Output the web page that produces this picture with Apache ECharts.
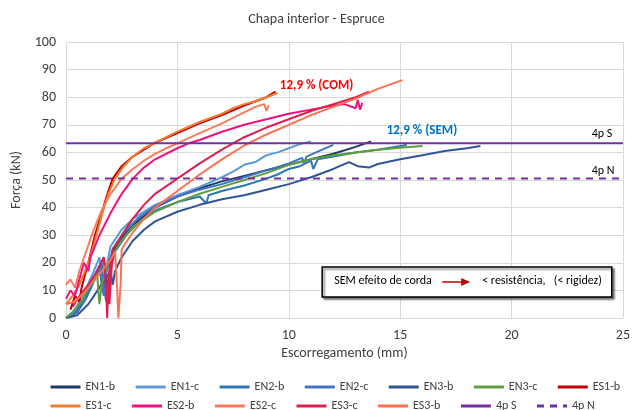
<!DOCTYPE html>
<html><head><meta charset="utf-8">
<script src="https://cdn.jsdelivr.net/npm/echarts@6/dist/echarts.min.js"></script>
<style>html,body{margin:0;padding:0;background:#fff}#c{width:633px;height:410px}</style>
</head><body><div id="c"></div>
<script>
// ---- data ----
const title = 'Chapa interior - Espruce';
const xName = 'Escorregamento (mm)';
const yName = 'Força (kN)';
const seriesNames = ['EN1-b','EN1-c','EN2-b','EN2-c','EN3-b','EN3-c','ES1-b','ES1-c','ES2-b','ES2-c','ES3-c','ES3-b','4p S','4p N'];

const EN1_b = [[0,0],[0.3,1],[0.6,4],[1.0,10],[1.4,17],[1.7,22],[1.8,14],[1.85,8],[1.9,14],[2.1,24],[2.6,30],[3.2,35],[4,40],[5,44],[6,47],[7,49.5],[8,51.5],[9,53.5],[10,55.5],[11,57.5],[12,59.5],[13,62],[13.7,64]];
const EN1_c = [[0,0],[0.4,3],[0.8,9],[1.2,16],[1.5,22],[1.6,16],[1.7,10],[1.8,18],[2.0,26],[2.5,32],[3,36],[4,41],[5,44.5],[6,47.5],[7,51],[7.5,53],[8,55.5],[8.5,56.5],[9,59],[9.5,60],[10,61.5],[10.5,63],[11,64]];
const EN2_b = [[0,0],[0.5,2],[0.9,7],[1.3,14],[1.6,20],[1.7,12],[1.8,6],[1.9,14],[2.2,24],[2.7,30],[3.3,35],[4,39],[4.5,40.5],[5,42],[6,44],[6.3,41.5],[6.4,44.5],[7,46],[8,48],[9,50.5],[9.5,52],[10,54],[10.5,55],[11,57],[11.1,54],[11.3,57.5],[12,58.5],[13,60],[14,61],[15.3,62.7]];
const EN2_c = [[0,0],[0.4,2],[0.8,7],[1.2,14],[1.5,19],[1.6,12],[1.7,8],[1.8,16],[2.1,25],[2.6,31],[3.2,36],[4,40.5],[5,44],[6,46.5],[7,48.5],[8,51],[9,53.5],[10,56],[10.6,58],[10.7,56],[10.8,58.5],[11.5,61],[12,62.7]];
const EN3_b = [[0,0],[0.5,1],[1,5],[1.5,11],[2,17],[2.1,12],[2.2,17],[2.5,22],[3,28],[3.5,32],[4,35],[5,38.5],[6,41],[7,43],[8,44.5],[9,46.5],[10,48.5],[11,51],[12,54],[12.7,56.5],[13.1,55],[13.6,54.5],[14,55.8],[15,57.5],[16,59],[17,60.5],[18,61.5],[18.6,62.3]];
const EN3_c = [[0,0],[0.3,2],[0.7,6],[1.1,12],[1.4,16],[1.45,10],[1.5,5],[1.6,12],[1.9,20],[2.4,27],[3,33],[4,38.5],[5,42],[6,45],[7,47.5],[8,50],[9,52.5],[10,55.5],[11,57.5],[12,59],[13,60],[14,61],[15,61.7],[16,62.3]];
const ES1_b = [[0.2,3],[0.4,8],[0.6,6],[0.7,11],[1.0,20],[1.3,30],[1.6,38],[1.9,46],[2.1,50.5],[2.5,55],[3,58.5],[3.5,61],[4,63.5],[5,67],[6,70.5],[7,73.5],[8,77],[9,80],[9.4,82]];
const ES1_c = [[0,5],[0.3,8],[0.6,12],[1.0,20],[1.3,28],[1.6,37],[1.9,45],[2.2,50.5],[2.6,55],[3,58.5],[3.5,61.5],[4,63.5],[5,67.5],[6,71],[7,74],[7.5,76],[8,77.5],[8.5,78.5],[9,80],[9.5,81.5]];
const ES2_b = [[0,7],[0.2,10],[0.4,8],[0.6,14],[0.8,20],[1.0,17],[1.1,22],[1.5,30],[2,38],[2.5,45],[3,50.5],[3.5,54.5],[4,57.5],[5,61.5],[5.5,63.3],[6,64.5],[7,67.5],[8,70],[9,72],[10,74],[11,75.5],[12,77],[12.5,77.5],[13,76],[13.1,79],[13.2,75.5],[13.3,78]];
const ES2_c = [[0,12],[0.2,14],[0.4,11],[0.6,17],[0.9,24],[1.2,31],[1.6,39],[2,45],[2.5,50.5],[3,54],[3.5,57],[4,59.5],[4.5,61.5],[5,63.3],[6,67],[7,70.5],[7.5,72.5],[8,74.5],[8.5,76.5],[8.9,77.5],[9.0,75],[9.1,77]];
const ES3_c = [[0.3,4],[0.6,8],[1,12],[1.4,17],[1.7,22],[1.8,10],[1.85,0],[1.9,12],[2.0,22],[1.95,5],[2.1,25],[2.5,30],[3,36],[3.5,41],[4,45],[5,50.5],[6,56],[6.6,59],[7,61],[8,65.5],[9,69],[10,72],[11,75],[12,77.5],[13,80],[13.6,82]];
const ES3_b = [[0,5],[0.4,6],[0.8,9],[1.2,13],[1.6,17],[2.0,21],[2.2,24],[2.3,10],[2.35,0],[2.45,12],[2.5,25],[3,31],[3.5,36],[4,40],[5,46],[6,52],[7,57.5],[8,62.5],[9,66.5],[10,70],[11,73.5],[12,76.5],[13,79.5],[14,83],[15.1,86.2]];
const limit4pS = 63.3;
const limit4pN = 50.5;
const xRange = [0, 25];

// ---- styles ----
const colors = {
  'EN1-b':'#1F3A68','EN1-c':'#5B9BD5','EN2-b':'#2E75B6','EN2-c':'#4472C4','EN3-b':'#2F5597','EN3-c':'#5E9E3C',
  'ES1-b':'#C00000','ES1-c':'#ED7D31','ES2-b':'#F0117F','ES2-c':'#F87C5A','ES3-c':'#DC2050','ES3-b':'#FF7050',
  '4p S':'#7030A0','4p N':'#7030A0'
};
const seriesData = {
  'EN1-b':EN1_b,'EN1-c':EN1_c,'EN2-b':EN2_b,'EN2-c':EN2_c,'EN3-b':EN3_b,'EN3-c':EN3_c,
  'ES1-b':ES1_b,'ES1-c':ES1_c,'ES2-b':ES2_b,'ES2-c':ES2_c,'ES3-c':ES3_c,'ES3-b':ES3_b,
  '4p S':[[xRange[0],limit4pS],[xRange[1],limit4pS]],
  '4p N':[[xRange[0],limit4pN],[xRange[1],limit4pN]]
};
const FONT = 'Carlito, Lato, sans-serif';
const TXT = '#404040';

const chart = echarts.init(document.getElementById('c'), null, {renderer:'canvas'});
const series = seriesNames.map(n => ({
  name:n, type:'line', data:seriesData[n], showSymbol:false, symbol:'none',
  animation:false, silent:true,
  lineStyle:{color:colors[n], width:2, type: n==='4p N' ? [7,6] : 'solid'},
  itemStyle:{color:colors[n]},
  z: n.startsWith('4p') ? 5 : 3
}));
const legendCommon = {
  itemWidth:30, itemHeight:10, itemGap:19,
  itemStyle:{opacity:0},
  lineStyle:{width:3},
  textStyle:{fontFamily:FONT, fontSize:12, color:TXT}
};
chart.setOption({
  animation:false,
  backgroundColor:'#fff',
  title:{text:title, left:'center', top:7, textStyle:{fontFamily:FONT, fontSize:14, fontWeight:'normal', color:TXT}},
  grid:{left:66, right:7, top:42, bottom:92, containLabel:false},
  xAxis:{type:'value', min:xRange[0], max:xRange[1], interval:5, name:xName, nameLocation:'middle', nameGap:28,
    nameTextStyle:{fontFamily:FONT, fontSize:14, color:TXT},
    axisLine:{show:false}, axisTick:{show:false},
    axisLabel:{fontFamily:FONT, fontSize:14, color:TXT, margin:10},
    splitLine:{show:true, lineStyle:{color:'#D9D9D9', width:1}}},
  yAxis:{type:'value', min:0, max:100, interval:10, name:yName, nameLocation:'middle', nameGap:38,
    nameTextStyle:{fontFamily:FONT, fontSize:14, color:TXT},
    axisLine:{show:false}, axisTick:{show:false},
    axisLabel:{fontFamily:FONT, fontSize:14, color:TXT, margin:10},
    splitLine:{show:true, lineStyle:{color:'#D9D9D9', width:1}}},
  legend:[
    Object.assign({data:seriesNames.slice(0,7), left:44, top:376}, legendCommon),
    Object.assign({data:seriesNames.slice(7), left:44, top:395}, legendCommon)
  ],
  series
});

// annotations placed through the axes
const p = (x,y) => chart.convertToPixel({gridIndex:0}, [x,y]);
const com = p(9.6, 83.7), sem = p(14.4, 67.2), s4 = p(23.6, 66.3), n4 = p(23.6, 53.0);
const boxTL = p(11.5, 18.5), boxBR = p(24.5, 7.6);
const bw = boxBR[0]-boxTL[0], bh = boxBR[1]-boxTL[1];
const cy = boxTL[1] + bh/2;
chart.setOption({graphic:[
  {type:'text', left:com[0], top:com[1]-8, style:{text:'12,9 % (COM)', font:'bold 13px '+FONT, fill:'#FF0000'}},
  {type:'text', left:sem[0], top:sem[1]-8, style:{text:'12,9 % (SEM)', font:'bold 13px '+FONT, fill:'#0070C0'}},
  {type:'text', left:s4[0], top:s4[1]-7, style:{text:'4p S', font:'12px '+FONT, fill:'#000'}},
  {type:'text', left:n4[0], top:n4[1]-7, style:{text:'4p N', font:'12px '+FONT, fill:'#000'}},
  {type:'rect', shape:{x:boxTL[0], y:boxTL[1], width:bw, height:bh},
    style:{fill:'#fff', stroke:'#000', lineWidth:1.5, shadowColor:'rgba(0,0,0,0.5)', shadowBlur:2, shadowOffsetX:2, shadowOffsetY:2}, z:10},
  {type:'text', left:boxTL[0]+12, top:cy-7, z:11, style:{text:'SEM efeito de corda', font:'12px '+FONT, fill:'#000'}},
  {type:'line', shape:{x1:boxTL[0]+120, y1:cy, x2:boxTL[0]+140, y2:cy}, z:11, style:{stroke:'#C00000', lineWidth:1.5}},
  {type:'polygon', shape:{points:[[boxTL[0]+139,cy-4],[boxTL[0]+148,cy],[boxTL[0]+139,cy+4]]}, z:11, style:{fill:'#C00000'}},
  {type:'text', left:boxTL[0]+160, top:cy-7, z:11, style:{text:'< resistência,   (< rigidez)', font:'12px '+FONT, fill:'#000'}}
]});
</script></body></html>
